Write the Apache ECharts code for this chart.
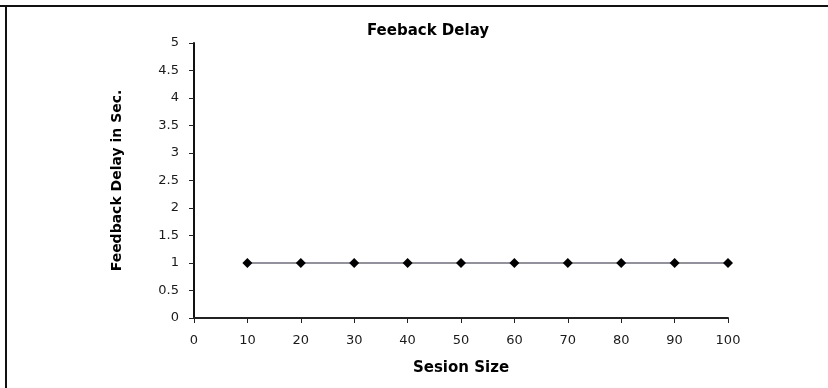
<!DOCTYPE html>
<html>
<head>
<meta charset="utf-8">
<script src="https://cdn.jsdelivr.net/npm/echarts@6/dist/echarts.min.js"></script>
<style>
  html, body { margin: 0; padding: 0; background: #fff; }
  #chart { width: 828px; height: 388px; }
</style>
</head>
<body>
<div id="chart"></div>
<script>
// Session sizes and the measured feedback delay for each
const sessionSizes = [10, 20, 30, 40, 50, 60, 70, 80, 90, 100];
const feedbackDelay = [1, 1, 1, 1, 1, 1, 1, 1, 1, 1];
const yTicks = [0, 0.5, 1, 1.5, 2, 2.5, 3, 3.5, 4, 4.5, 5];
const xTicks = [0, 10, 20, 30, 40, 50, 60, 70, 80, 90, 100];

const chart = echarts.init(document.getElementById('chart'), null, { renderer: 'canvas' });

const labelFont = { fontFamily: 'DejaVu Sans', fontSize: 13, color: '#1a1a1a' };
const boldFont = { fontFamily: 'DejaVu Sans', fontWeight: 'bold', color: '#000' };

chart.setOption({
  animation: false,
  backgroundColor: '#fff',
  title: {
    text: 'Feeback Delay',
    left: 423,
    top: 19,
    textAlign: 'center',
    textStyle: Object.assign({ fontSize: 15 }, boldFont)
  },
  grid: { left: 194, right: 100, top: 43, bottom: 70, containLabel: false },
  xAxis: {
    type: 'value',
    min: xTicks[0],
    max: xTicks[xTicks.length - 1],
    interval: 10,
    name: 'Sesion Size',
    nameLocation: 'middle',
    nameGap: 43,
    nameTextStyle: Object.assign({ fontSize: 15 }, boldFont),
    axisLine: { show: true, lineStyle: { color: '#222', width: 2 } },
    axisTick: { show: true, length: 5, inside: false, lineStyle: { color: '#222', width: 1 } },
    axisLabel: Object.assign({ margin: 16 }, labelFont),
    splitLine: { show: false }
  },
  yAxis: {
    type: 'value',
    min: yTicks[0],
    max: yTicks[yTicks.length - 1],
    interval: 0.5,
    name: 'Feedback Delay in Sec.',
    nameLocation: 'middle',
    nameGap: 70,
    nameRotate: 90,
    nameTextStyle: Object.assign({ fontSize: 14 }, boldFont),
    axisLine: { show: true, lineStyle: { color: '#111', width: 2 } },
    axisTick: { show: true, length: 5, inside: false, lineStyle: { color: '#222', width: 1 } },
    axisLabel: Object.assign({ margin: 15 }, labelFont),
    splitLine: { show: false }
  },
  series: [{
    type: 'line',
    data: sessionSizes.map((s, i) => [s, feedbackDelay[i]]),
    symbol: 'diamond',
    symbolSize: 10,
    itemStyle: { color: '#000' },
    lineStyle: { color: '#262640', width: 1.2 }
  }],
  graphic: [
    // outer frame: top edge and left edge
    { type: 'line', shape: { x1: 0, y1: 6, x2: 828, y2: 6 }, style: { stroke: '#111', lineWidth: 2 } },
    { type: 'line', shape: { x1: 6, y1: 6, x2: 6, y2: 388 }, style: { stroke: '#111', lineWidth: 2 } }
  ]
});
</script>
</body>
</html>
